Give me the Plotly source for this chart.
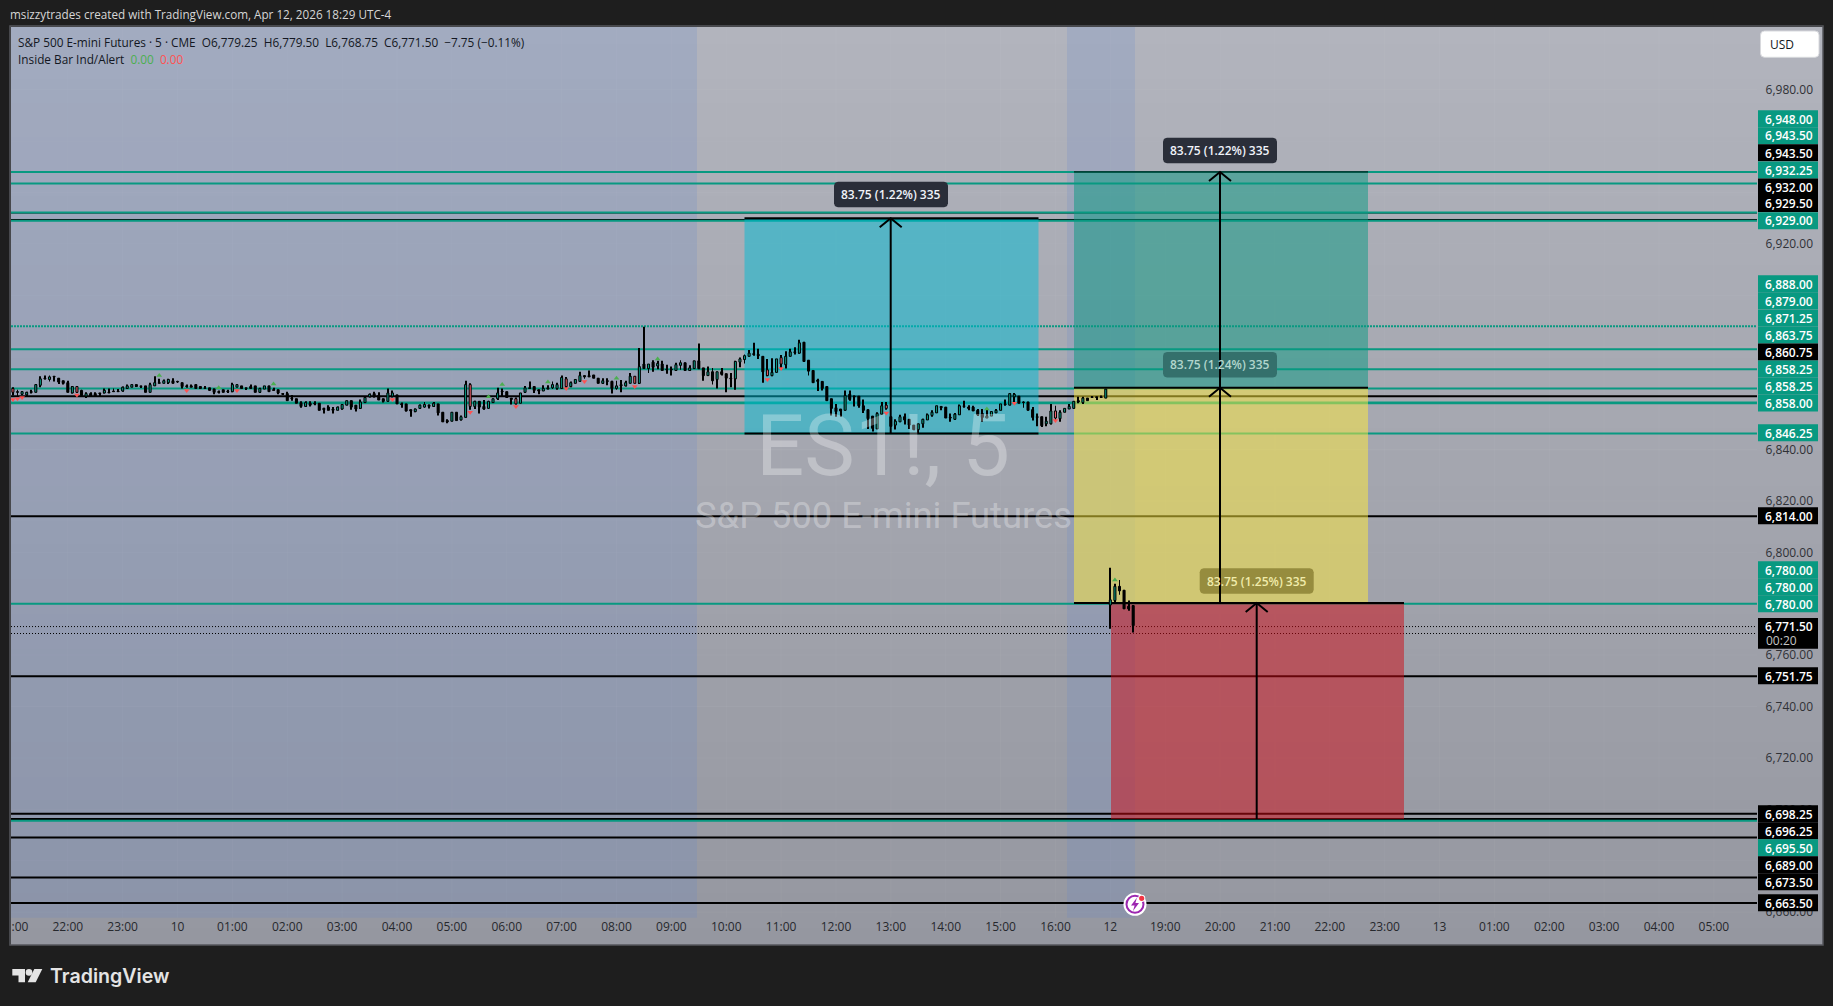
import numpy as np
import plotly.graph_objects as go

W, H = 1833, 1006
FONT = "Open Sans"

bar_high = [
6864.25,6863.25,6862.75,6862.5,6863.25,6865.5,6868.5,6868.75,6868.75,6868.5,
6867.75,6866.75,6866.75,6864.75,6864.75,6863.25,6862.25,6862.25,6862.25,6862,
6863.75,6863.75,6863.75,6863.5,6864.5,6865.25,6865.25,6865.25,6864.75,6864.75,
6866,6868.5,6867.5,6867.25,6867.5,6867.75,6866.75,6866,6865.25,6865.25,
6865.25,6864.5,6864.75,6864,6863.75,6863,6863.25,6863.25,6866,6865.25,
6864.75,6864,6865.25,6864.75,6864,6864.75,6864.75,6864,6863.25,6861.75,
6862.5,6861.25,6859.75,6858.75,6858.75,6858.75,6858.75,6858,6856.25,6857.25,
6856.5,6856.75,6857.75,6859,6859,6857.25,6859.5,6860.25,6861.75,6862.5,
6862.25,6859.75,6863.75,6863,6861.25,6858.25,6857.75,6855.5,6856,6857.5,
6858.5,6857.5,6858.5,6857.75,6854.5,6851.75,6854.5,6854.5,6853.25,6866.75,
6865.75,6859,6858.75,6859.25,6859,6859.75,6864,6863.75,6862.5,6860,
6860.25,6862,6864.75,6866.5,6864.5,6863.25,6865,6865,6866.5,6866,
6868.75,6868.25,6866.5,6867.25,6870.25,6868.75,6870.75,6869,6867.75,6867.75,
6867.75,6866.75,6866.75,6867,6866.75,6869.75,6868.5,6879.5,6887.75,6873.25,
6874.75,6874.5,6874.5,6873,6872.25,6873.75,6874.75,6873.75,6872.75,6874.5,
6881.25,6871.75,6872.25,6871.75,6870.25,6871.75,6869.5,6869.75,6874.5,6875.75,
6877,6878.75,6881.5,6879.25,6876.25,6875.25,6875.5,6875.25,6876.75,6878.25,
6879.25,6879.75,6882.75,6881.75,6874.75,6870.75,6867.5,6866.5,6864.5,6859.75,
6857.75,6855.75,6863,6863,6861,6860.75,6859.5,6855.5,6853,6854.5,
6858.5,6858.5,6852.75,6851.75,6853.5,6854,6851.75,6849.5,6850,6852,
6854,6855.25,6857,6856.75,6856.5,6854,6854.25,6857.5,6859,6857.25,
6857,6855.75,6855.75,6855.5,6854.75,6855.75,6857.75,6859.5,6861.75,6862,
6860.75,6858.75,6858.5,6856.5,6854,6852.75,6852.75,6857.75,6857,6855.25,
6856,6857.75,6858.75,6860.5,6860.5,6860,6860.75,6860.5,6861,6863.5,
6794,6787.75,6789.25,6785.25,6781.25,6779.5]

body_top = [
6863.75,6862.5,6862.5,6862.25,6862.5,6865.25,6867.5,6867.75,6868.25,6868.5,
6867.75,6866.75,6866,6864.5,6864.5,6863,6861.75,6861.75,6861.75,6862,
6863,6862.25,6862.75,6862.75,6864.25,6864.75,6865.25,6865.25,6864.75,6864.75,
6865.25,6866,6866,6866.75,6867.25,6866.75,6866.5,6866,6864.75,6864.75,
6865.25,6864.5,6864,6864,6863.5,6862.5,6863.25,6862.75,6865.25,6865.25,
6864.75,6864,6864.5,6864.75,6863.75,6864.75,6864.75,6863.25,6863.25,6861.75,
6861.75,6860,6859.75,6858.25,6858.25,6858,6858,6858,6856,6856.5,
6855.75,6856.5,6857.5,6859,6859,6857.25,6858.5,6860.25,6861.5,6861.75,
6861,6859.75,6862,6862,6861.25,6857.75,6857.75,6855.5,6855.75,6857.25,
6857.5,6857.25,6858,6857.75,6854.5,6851.25,6854.5,6854.5,6852.75,6865.25,
6865.25,6858.75,6858.75,6856.75,6858.75,6859.75,6862,6862.75,6862.5,6860,
6859.75,6862,6864,6864,6864.5,6863.25,6863.75,6864,6865.25,6865.25,
6868,6867.5,6866,6867.25,6868.75,6868.75,6868.75,6869,6867.75,6866.75,
6866.75,6866.5,6864.75,6865.25,6866,6868.5,6868.5,6872.25,6873.25,6873.25,
6874,6873.5,6873.25,6871.25,6871.25,6873,6873.75,6873.75,6871.75,6874.5,
6874.5,6871.75,6870.25,6870.25,6870.25,6870.25,6869.5,6867.75,6874.25,6875.25,
6876.5,6877.5,6877.25,6877,6876.25,6871,6870,6875.25,6875.75,6876.25,
6878,6878,6881.5,6881.75,6874.75,6870.75,6867,6866.5,6864.5,6859.75,
6856.25,6855.75,6861,6861.5,6860.75,6860.75,6857,6855.5,6853,6854,
6857,6857.25,6852.75,6851,6852.75,6852.75,6851.75,6849.5,6850,6851.75,
6853.5,6854.5,6857,6856.75,6856.5,6852.5,6853.75,6857,6857,6856.5,
6856.5,6855.25,6854,6853,6854.75,6855.25,6857.75,6857.75,6861.75,6861.5,
6860.75,6858.5,6858.5,6855.5,6852.75,6852.75,6851,6855,6855,6854.5,
6856,6856.75,6858.75,6859,6860,6860,6860.5,6860.5,6860.5,6863.5,
6781.5,6786.75,6786.75,6785.25,6779,6779.25]

body_bottom = [
6862.25,6862.25,6861.5,6861.25,6862.25,6862.25,6865,6867.5,6867.25,6868.25,
6866.25,6865.75,6862.25,6862,6862.25,6861,6860.75,6860.75,6860.75,6861.75,
6862,6862,6862.5,6862.5,6862.75,6863.75,6864.25,6864.5,6864.5,6862.25,
6862.25,6864.75,6865.75,6865.75,6866,6865.75,6866.25,6864.5,6864.5,6864.25,
6863.75,6863.75,6863.75,6863,6862.25,6862.25,6862.25,6862.5,6862.5,6864.25,
6863.75,6863.75,6863.75,6862.25,6862.25,6863.5,6862.5,6863,6862,6861.5,
6859,6859.75,6858,6856.75,6856.75,6857.25,6857.75,6855.25,6855.5,6855.25,
6855.25,6855.25,6855.75,6857.25,6856.5,6855.75,6856,6858.25,6860.5,6860.5,
6859.25,6858.75,6858.75,6860.75,6857.75,6857.5,6855,6855,6854.75,6856,
6856.5,6856.75,6856.75,6854.25,6850.75,6850.75,6851,6851.25,6851.5,6852.5,
6856.75,6856.75,6856.5,6855.75,6856,6858.25,6859.75,6862.5,6860.25,6859.5,
6857.75,6858,6862.25,6863.75,6863,6862.75,6862.75,6863.5,6864,6863.75,
6863.75,6864.5,6864.5,6865.75,6866.5,6868.25,6868.25,6867.75,6865.75,6865.75,
6866.5,6863.75,6863.75,6864.75,6864.75,6865.75,6865.75,6865.75,6871.5,6871.5,
6872,6872.5,6870.75,6871,6871,6870.75,6872.75,6870.75,6870.75,6871.5,
6871.5,6868.75,6868.75,6866.75,6867.25,6869.25,6867.75,6867.5,6867.5,6874,
6875,6876.25,6877,6876.5,6870.25,6868.75,6868.75,6870,6873.25,6873,
6876.25,6877.75,6877.5,6874.25,6870.5,6866,6866.5,6863.75,6859,6856,
6854.75,6855,6855.25,6859.5,6860.5,6857,6855.25,6852,6848.25,6848,
6853.75,6856,6849,6849.5,6850.75,6851.5,6849.5,6847.75,6847.75,6850,
6851.5,6853.25,6854.25,6856.25,6852.25,6852.25,6851.75,6853.5,6856.75,6856,
6855,6853.5,6852.5,6852.25,6853,6854.25,6855.25,6857.5,6857.25,6860.5,
6858,6858.25,6855.25,6852.5,6852.5,6849.25,6850,6850,6852.25,6852,
6854.5,6855.75,6856,6858.5,6858.25,6859,6860.25,6860.25,6860.25,6860,
6779.5,6781.25,6785,6778,6778,6771.5]

bar_low = [
6861,6860.75,6861.25,6860.75,6861.75,6862.25,6864.25,6867.25,6866.5,6866.5,
6865.5,6865.25,6862.25,6861.75,6862,6860.75,6860,6860.75,6860.75,6860.75,
6861.75,6862,6862.5,6862.5,6862.5,6863.5,6864.25,6864.5,6864,6862.25,
6862.25,6864.75,6865.75,6865.75,6865.5,6865.75,6866,6863.75,6864,6864.25,
6863.75,6863.75,6863.75,6862.75,6861.5,6861.75,6862.25,6862,6862.25,6864.25,
6863.75,6863.25,6863.75,6862.25,6862,6863.5,6862.5,6863,6861.5,6861.5,
6859,6859,6858,6856.25,6856.5,6856.75,6857.25,6855.25,6854,6855.25,
6854,6855.25,6855.5,6857.25,6855.5,6854.75,6855.75,6858.25,6860.25,6860.25,
6859.25,6858.25,6858.5,6860.25,6857.75,6856.25,6854.75,6852.75,6854.5,6855.75,
6856.25,6856,6856.5,6853.25,6850.75,6850.25,6851,6851.25,6851.25,6852.5,
6855.5,6855.75,6854,6855.5,6855.75,6858.25,6859.25,6860.75,6860,6857.5,
6857.5,6858,6862,6863.5,6862,6861.5,6862.75,6863.5,6863.5,6863.25,
6863.75,6863.75,6864.25,6865.75,6866.5,6867.5,6868.25,6867.75,6865.75,6865.5,
6865,6861.75,6863.25,6862.25,6864.5,6865.75,6865.75,6865.5,6871.5,6869.75,
6870.25,6871.25,6870.75,6869.5,6868.75,6870.75,6871,6870.5,6870.5,6871.5,
6871.25,6866.75,6868.75,6865.25,6863.75,6868.75,6862.25,6864.25,6863.25,6872,
6873.5,6876.25,6876.5,6875.25,6866,6868.5,6868.5,6870,6871.75,6871.5,
6876.25,6877,6877.25,6874.25,6868.75,6866,6862.75,6863,6859,6853.25,
6852.75,6852.75,6855.25,6859,6856.75,6856.25,6854.25,6848,6847,6848,
6853.75,6855.5,6849,6847.75,6850.75,6849.75,6848,6847.5,6846.25,6848.5,
6851.5,6852.75,6854.25,6855.25,6852.25,6850.75,6851.5,6853.5,6856.25,6855.25,
6855,6853,6850.75,6852.25,6853,6854.25,6855.25,6857,6857.25,6858.25,
6858,6856.25,6855.25,6851.25,6849,6848.75,6849,6849.75,6851.5,6850.75,
6854.5,6855.75,6856,6858,6857.75,6859,6860.25,6859.25,6860,6860,
6770.25,6780.5,6783.5,6778,6777.25,6768.75]

bar_kind = ("RKGGKGGKGK" "KKKGRKGKKK" "GKKKGGGKKK" "GGKGGKKKKK" "KKKKKKKKGG"
            "KKKKGGKKKK" "KKKKGKKKKK" "KGGGKKGGGK" "KKGGKKKKGG" "GKGKKKGKGG"
            "RGKKGGGKKK" "RGGKKKGKGG" "GRGGGKKKKG" "KKGKGGRGKG" "KGKKKGGKGG"
            "KKGKGKKKGG" "GGKKKRGGRG" "GKGKKKKKKK" "KKGKKKKKKG" "GRKGGKKKGG"
            "GGGKKKGGKK" "KKKGGGGKGG" "KKKKKKGGRG" "GGGKGKKKKG" "GGKKKK")
first_bar = -12

up_marker_bar = [20, 33, 45, 92, 95, 105, 120, 129, 201, 229]
up_marker_price = [6868.75, 6864, 6865.5, 6860.5, 6865.25, 6866.25, 6867.75, 6875.25, 6855.75, 6789.25]
down_marker_bar = [-12, -11, -10, 2, 26, 37, 71, 88, 98, 109, 113, 124, 153, 156, 179, 207, 216]
down_marker_price = [6859.5, 6859.75, 6860.25, 6861.25, 6863, 6863, 6859.5, 6854.5, 6856.75, 6863.75,
                     6866.5, 6864.5, 6867.25, 6871.5, 6854.25, 6858, 6851.25]

teal_levels = [6948, 6943.5, 6932.25, 6929, 6879, 6871.25, 6863.75, 6858.25, 6858, 6846.25, 6780, 6695.5]
teal_dotted_levels = [6888]
black_thin_levels = [6943.5, 6932, 6929.5]
black_levels = [6860.75, 6814, 6751.75, 6698.25, 6696.25, 6689, 6673.5, 6663.5]
last_price_levels = [6771.1, 6768.4]

x_tick_bars = [-10.45] + [h * 12 for h in range(31)]
x_tick_text = [":00", "22:00", "23:00", "10", "01:00", "02:00", "03:00", "04:00", "05:00", "06:00", "07:00",
               "08:00", "09:00", "10:00", "11:00", "12:00", "13:00", "14:00", "15:00", "16:00", "12", "19:00",
               "20:00", "21:00", "22:00", "23:00", "13", "01:00", "02:00", "03:00", "04:00", "05:00"]
y_tick_vals = [6660, 6700, 6720, 6740, 6760, 6800, 6820, 6840, 6920, 6980]
grid_vals = list(range(6660, 7000, 20))

price_label_text = ["6,948.00", "6,943.50", "6,943.50", "6,932.25", "6,932.00", "6,929.50", "6,929.00",
                    "6,888.00", "6,879.00", "6,871.25", "6,863.75", "6,860.75", "6,858.25", "6,858.25", "6,858.00",
                    "6,846.25", "6,814.00", "6,780.00", "6,780.00", "6,780.00", "6,751.75",
                    "6,698.25", "6,696.25", "6,695.50", "6,689.00", "6,673.50", "6,663.50"]
price_label_kind = "TTKTKKT" "TTTTKTTT" "T" "K" "TTT" "K" "KKTKK" "K"

# ---------- layout geometry (pixels of the screenshot) ----------
PL, PR, PT, PB = 11, 1823, 27, 945
price_label_center = [118.7, 135.7, 152.7, 170, 187, 203.6, 220.7,
                      283.7, 300.7, 318, 335, 352, 369, 386, 403,
                      432.7, 515.7, 569.7, 586.7, 603.7, 675.7,
                      813.7, 830.7, 847.7, 864.7, 881.7, 902.7]
PX0, PX_PER_BAR = 67.8, 4.5725
PY0, PY_PER_POINT = 89.7, 2.57
def bar_at(px): return (px - PX0) / PX_PER_BAR
def price_at(py): return 6980 - (py - PY0) / PY_PER_POINT
def X(px): return px / W
def Y(py): return 1 - py / H

x_range = [bar_at(PL), bar_at(PR)]
y_range = [price_at(PB), price_at(PT)]
pane_end = bar_at(1757)
pane_bottom = price_at(917.7)

TEAL = "#089981"
fig = go.Figure()

# background gradient
rows = np.linspace(0, 1, 80)
fig.add_trace(go.Heatmap(x=x_range, y=np.linspace(y_range[0], y_range[1], 80),
                         z=[[v, v] for v in rows], zmin=0, zmax=1, showscale=False, hoverinfo="skip",
                         colorscale=[[0, "rgb(149,151,160)"], [1, "rgb(178,180,189)"]]))

# faint grid
gx, gy = [], []
for b in x_tick_bars[1:]:
    gx += [b, b, None]; gy += [pane_bottom, y_range[1], None]
for v in grid_vals:
    gx += [x_range[0], pane_end, None]; gy += [v, v, None]
fig.add_trace(go.Scatter(x=gx, y=gy, mode="lines", line=dict(color="rgba(255,255,255,0.035)", width=1),
                         hoverinfo="skip", showlegend=False))

def rect_trace(x0, x1, y0, y1, fill, xa="x", ya="y"):
    return go.Scatter(x=[x0, x1, x1, x0, x0], y=[y0, y0, y1, y1, y0], mode="lines", fill="toself",
                      fillcolor=fill, line=dict(width=0), hoverinfo="skip", showlegend=False, xaxis=xa, yaxis=ya)

# sessions
session_blue = "rgba(98,135,205,0.2)"
fig.add_trace(rect_trace(x_range[0], bar_at(697), pane_bottom, y_range[1], session_blue))
fig.add_trace(rect_trace(bar_at(1067), bar_at(1135), pane_bottom, y_range[1], session_blue))

def level_trace(levels, color, width, dash="solid", x0=None):
    xs, ys = [], []
    for v in levels:
        xs += [x_range[0] if x0 is None else x0, pane_end, None]
        ys += [v, v, None]
    return go.Scatter(x=xs, y=ys, mode="lines", line=dict(color=color, width=width, dash=dash),
                      hoverinfo="skip", showlegend=False)

fig.add_trace(level_trace(black_thin_levels, "#000000", 1))
fig.add_trace(level_trace(black_levels, "#000000", 2))
fig.add_trace(level_trace(teal_levels, TEAL, 2))
fig.add_trace(level_trace(teal_dotted_levels, TEAL, 2, "2px,1px"))
fig.add_trace(level_trace(last_price_levels, "#000000", 1, "1px,2px"))

# measuring boxes
cyan_x = [bar_at(744.5), bar_at(1038.5)]
long_x = [bar_at(1074), bar_at(1368)]
red_x = [bar_at(1111), bar_at(1404)]
cyan_p = [6846.25, 6930]
green_p = [6864, 6948]
yellow_p = [6780.25, 6864]
red_p = [6696.25, 6780.25]
fig.add_trace(rect_trace(*cyan_x, *cyan_p, "rgba(0,188,212,0.5)"))
fig.add_trace(rect_trace(*long_x, *green_p, "rgba(8,153,129,0.5)"))
fig.add_trace(rect_trace(*long_x, *yellow_p, "rgba(255,235,59,0.5)"))
fig.add_trace(rect_trace(*red_x, *red_p, "rgba(205,10,20,0.5)"))

def edge(x, p, width=2):
    return go.Scatter(x=x, y=[p, p], mode="lines", line=dict(color="#000", width=width), hoverinfo="skip",
                      showlegend=False)
fig.add_trace(edge(cyan_x, cyan_p[0]))
fig.add_trace(edge(cyan_x, cyan_p[1]))
fig.add_trace(edge(long_x, green_p[1], 1))
fig.add_trace(edge(long_x, green_p[0]))
fig.add_trace(edge(long_x, yellow_p[0]))
fig.add_trace(edge(red_x, red_p[1]))

# candles (in an overlaying subplot so they sit above the boxes)
bars = list(range(first_bar, first_bar + len(bar_high)))
assert len(bar_high) == len(body_top) == len(body_bottom) == len(bar_low) == len(bar_kind), (
    len(bar_high), len(body_top), len(body_bottom), len(bar_low), len(bar_kind))
hi = np.array(bar_high); lo = np.array(bar_low); tp = np.array(body_top); bt = np.array(body_bottom)
hi = np.maximum(hi, tp); lo = np.minimum(lo, bt)
fig.add_trace(go.Bar(x=bars, base=lo, y=hi - lo, width=0.2, marker=dict(color="#000", line=dict(width=0)),
                     hoverinfo="skip", showlegend=False, xaxis="x2", yaxis="y2"))
kind_color = {"G": TEAL, "K": "#000000", "R": "#f7606c"}
fig.add_trace(go.Bar(x=bars, base=bt, y=np.maximum(tp - bt, 0.25), width=0.45,
                     marker=dict(color=[kind_color[k] for k in bar_kind], line=dict(color="#000", width=1)),
                     hoverinfo="skip", showlegend=False, xaxis="x2", yaxis="y2"))
fig.add_trace(go.Scatter(x=up_marker_bar, y=up_marker_price, mode="markers", hoverinfo="skip", showlegend=False,
                         marker=dict(symbol="triangle-up", size=5, color="#4caf50"), xaxis="x2", yaxis="y2"))
fig.add_trace(go.Scatter(x=down_marker_bar, y=down_marker_price, mode="markers", hoverinfo="skip", showlegend=False,
                         marker=dict(symbol="triangle-down", size=5, color="#ff5252"), xaxis="x2", yaxis="y2"))

# measure labels and arrows
arrow_bar = [bar_at(890.7), bar_at(1220), bar_at(1220), bar_at(1256.7)]
arrow_from = [cyan_p[0], green_p[0], yellow_p[0], red_p[0]]
arrow_to = [cyan_p[1], green_p[1], yellow_p[1], red_p[1]]
measure_text = ["83.75 (1.22%) 335", "83.75 (1.22%) 335", "83.75 (1.24%) 335", "83.75 (1.25%) 335"]
measure_center_px = [(891, 194.5), (1220, 150.5), (1220, 364.7), (1256.7, 581)]
measure_bg = ["#2a2e39", "#2a2e39", "rgb(52,112,108)", "rgb(150,140,62)"]
measure_fg = ["#f0f3fa", "#f0f3fa", "rgb(178,214,205)", "rgb(240,235,170)"]

def rounded(cx, cy, w=114, h=25.5, r=4):
    t = np.linspace(0, np.pi / 2, 6)
    xs, ys = [], []
    for (ax, ay, a0) in [(cx + w/2 - r, cy - h/2 + r, -np.pi/2), (cx + w/2 - r, cy + h/2 - r, 0),
                         (cx - w/2 + r, cy + h/2 - r, np.pi/2), (cx - w/2 + r, cy - h/2 + r, np.pi)]:
        xs += list(ax + r * np.cos(a0 + t)); ys += list(ay + r * np.sin(a0 + t))
    xs.append(xs[0]); ys.append(ys[0])
    return [bar_at(v) for v in xs], [price_at(v) for v in ys]

for (cx, cy), bg in zip(measure_center_px, measure_bg):
    xs, ys = rounded(cx, cy)
    fig.add_trace(go.Scatter(x=xs, y=ys, mode="lines", fill="toself", fillcolor=bg, line=dict(width=0),
                             hoverinfo="skip", showlegend=False, xaxis="x2", yaxis="y2"))

dx, dy = 11 / PX_PER_BAR, 9 / PY_PER_POINT
for b, p0, p1 in zip(arrow_bar, arrow_from, arrow_to):
    fig.add_trace(go.Scatter(x=[b, b, None, b - dx, b, b + dx], y=[p0, p1, None, p1 - dy, p1, p1 - dy], mode="lines",
                             line=dict(color="#000", width=2), hoverinfo="skip", showlegend=False,
                             xaxis="x2", yaxis="y2"))

shapes, ann = [], []

def text(px, py, s, size=12, color="#000", anchor="left", family=FONT, weight=None):
    f = dict(family=family, size=size, color=color)
    if weight: f["weight"] = weight
    ann.append(dict(x=X(px), y=Y(py), xref="paper", yref="paper", text=s, showarrow=False, xanchor=anchor,
                    yanchor="middle", font=f, borderpad=0, borderwidth=0))

# watermark
text(883, 446, "ES1!, 5", 85, "rgba(255,255,255,0.3)", "center", "Roboto")
text(883, 515, "S&P 500 E-mini Futures", 36.3, "rgba(255,255,255,0.3)", "center", "Roboto")

# measure text
for (cx, cy), s, fg in zip(measure_center_px, measure_text, measure_fg):
    text(cx, cy, s, 12, fg, "center", FONT, 600)

# frame
shapes.append(dict(type="rect", xref="paper", yref="paper", x0=X(PL - 1), x1=X(PR), y0=Y(PB), y1=Y(PT - 1),
                   line=dict(color="#55575c", width=1.5), layer="above"))

# price labels
for s, k, cy in zip(price_label_text, price_label_kind, price_label_center):
    bg = TEAL if k == "T" else "#000000"
    shapes.append(dict(type="rect", xref="paper", yref="paper", x0=X(1758), x1=X(1818), y0=Y(cy + 8.5), y1=Y(cy - 8.5),
                       fillcolor=bg, line=dict(width=0), layer="above"))
    text(1813, cy + 0.3, s, 12, "#ffffff", "right", FONT, 600)
shapes.append(dict(type="rect", xref="paper", yref="paper", x0=X(1758), x1=X(1818), y0=Y(648.7), y1=Y(618),
                   fillcolor="#000", line=dict(width=0), layer="above"))
text(1813, 626, "6,771.50", 12, "#ffffff", "right", FONT, 600)
text(1766, 640, "00:20", 12, "#c4c4c4", "left", FONT)

# USD button
def rr_path(x0, y0, x1, y1, r):
    return (f"M {X(x0+r)} {Y(y0)} L {X(x1-r)} {Y(y0)} Q {X(x1)} {Y(y0)} {X(x1)} {Y(y0+r)} L {X(x1)} {Y(y1-r)} "
            f"Q {X(x1)} {Y(y1)} {X(x1-r)} {Y(y1)} L {X(x0+r)} {Y(y1)} Q {X(x0)} {Y(y1)} {X(x0)} {Y(y1-r)} "
            f"L {X(x0)} {Y(y0+r)} Q {X(x0)} {Y(y0)} {X(x0+r)} {Y(y0)} Z")
shapes.append(dict(type="path", xref="paper", yref="paper", path=rr_path(1760.5, 31, 1819, 57.3, 4), fillcolor="#ffffff",
                   line=dict(color="#d8d9dd", width=1), layer="above"))
text(1770, 44.5, "USD", 12, "#131722", "left", FONT)

# titles / legend
text(10, 14, "msizzytrades created with TradingView.com, Apr 12, 2026 18:29 UTC-4", 11.7, "#d6d6d6")
text(18, 41.5, "S&amp;P 500 E-mini Futures · 5 · CME  O6,779.25  H6,779.50  L6,768.75  C6,771.50  −7.75 (−0.11%)".replace("  ", "&nbsp;&nbsp;"),
     11.8, "#131722")
text(18, 58.5, "Inside Bar Ind/Alert&nbsp;&nbsp;<span style='color:#4caf50'>0.00</span>&nbsp;&nbsp;<span style='color:#ff5252'>0.00</span>", 11.8, "#131722")

# lightning icon
def circle(cx, cy, r, fill, line=None, lw=0):
    shapes.append(dict(type="circle", xref="paper", yref="paper", x0=X(cx-r), x1=X(cx+r), y0=Y(cy+r), y1=Y(cy-r),
                       fillcolor=fill, line=dict(color=line or fill, width=lw), layer="above"))
circle(1135, 904.3, 11.5, "#ffffff")
circle(1135, 904.3, 8.5, "#ffffff", "#9c27b0", 2)
bolt = [(1137, 897.5), (1131, 905.5), (1134.6, 905.5), (1133, 911), (1139, 903), (1135.4, 903)]
shapes.append(dict(type="path", xref="paper", yref="paper", fillcolor="#9c27b0", line=dict(width=0), layer="above",
                   path="M " + " L ".join(f"{X(a)} {Y(b)}" for a, b in bolt) + " Z"))
circle(1141.7, 898.3, 3.6, "#ffffff")
circle(1141.7, 898.3, 2.6, "#f23645")

# TradingView logo
LOGO = "#e4e4e4"
for pts in ([(12.3, 969), (25, 969), (25, 982.3), (18.5, 982.3), (18.5, 975.5), (12.3, 975.5)],
            [(34.3, 969), (42.3, 969), (35.7, 982.3), (27.7, 982.3)]):
    shapes.append(dict(type="path", xref="paper", yref="paper", fillcolor=LOGO, line=dict(width=0), layer="above",
                       path="M " + " L ".join(f"{X(a)} {Y(b)}" for a, b in pts) + " Z"))
circle(29, 972.4, 3.3, LOGO)
text(49.5, 975.5, "TradingView", 19.6, LOGO, "left", "Inter", 600)

fig.update_layout(
    width=W, height=H, margin=dict(l=0, r=0, t=0, b=0), paper_bgcolor="#1e1e1e", plot_bgcolor="#a3a5ae",
    barmode="overlay", showlegend=False, shapes=shapes, annotations=ann,
    xaxis=dict(domain=[X(PL), X(PR)], range=x_range, anchor="free", position=Y(918),
               tickmode="array", tickvals=x_tick_bars, ticktext=x_tick_text, showgrid=False, zeroline=False,
               showline=False, ticks="", tickangle=0, tickfont=dict(family=FONT, size=12, color="#26282d")),
    yaxis=dict(domain=[Y(PB), Y(PT)], range=y_range, side="right", anchor="free", position=X(1816),
               ticklabelposition="inside", tickmode="array", tickvals=y_tick_vals, tickformat=",.2f", showgrid=False,
               zeroline=False, showline=False, ticks="", tickfont=dict(family=FONT, size=12, color="#2f3136")),
    xaxis2=dict(domain=[X(PL), X(PR)], range=x_range, overlaying="x", matches="x", visible=False),
    yaxis2=dict(domain=[Y(PB), Y(PT)], range=y_range, overlaying="y", matches="y", visible=False),
)
fig.write_html("out.html", config=dict(displayModeBar=False),
               post_script="document.body.style.margin='0';document.documentElement.style.overflow='hidden';")
